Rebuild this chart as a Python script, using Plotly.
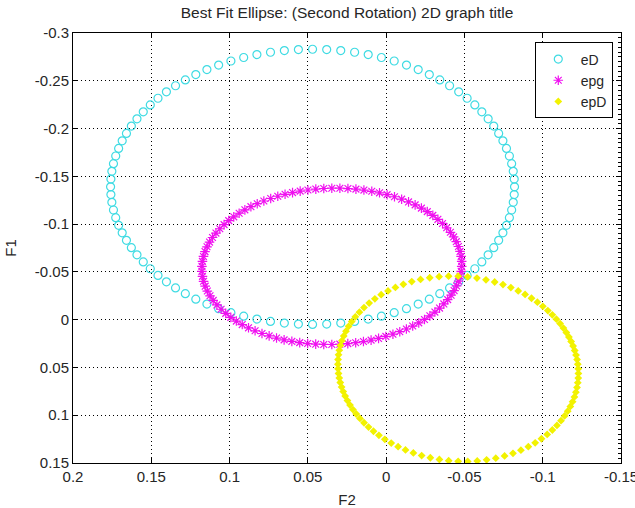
import numpy as np
import plotly.graph_objects as go

# ---- data (F2 on x, F1 on y) ----
series_names = ["eD", "epg", "epD"]
centre_f2 = [0.047, 0.0347, -0.046]       # ellipse centres, F2
centre_f1 = [-0.139, -0.0558, 0.0514]     # ellipse centres, F1
half_width_f2 = [0.129, 0.083, 0.0768]    # half extent along F2
half_height_f1 = [0.144, 0.0818, 0.097]   # half extent along F1
skew = [0.0, 0.03, -0.05]                 # small tilt of each fitted ellipse
n_points = [100, 100, 100]                # markers per ellipse

x_ticks = [0.2, 0.15, 0.1, 0.05, 0, -0.05, -0.1, -0.15]
x_tick_labels = ["0.2", "0.15", "0.1", "0.05", "0", "-0.05", "-0.1", "-0.15"]
y_ticks = [-0.3, -0.25, -0.2, -0.15, -0.1, -0.05, 0, 0.05, 0.1, 0.15]
y_tick_labels = ["-0.3", "-0.25", "-0.2", "-0.15", "-0.1", "-0.05", "0", "0.05", "0.1", "0.15"]

title_text = "Best Fit Ellipse: (Second Rotation) 2D graph title"

# ---- styles ----
colors = ["#3fdbe3", "#f010f0", "#f2f200"]
symbols = ["circle-open", "asterisk-open", "diamond"]
sizes = [8, 8, 6]
FONT = "Liberation Sans, Arial, sans-serif"
TXT = "#262626"


def ellipse_points(cx, cy, p, q, s, n):
    th = 2 * np.pi * np.arange(n) / n
    c, sn = np.cos(th), np.sin(th)
    denom = c ** 2 / p ** 2 + sn ** 2 / q ** 2 - 2 * s * c * sn / (p * q)
    r = np.sqrt(1 - s ** 2) / np.sqrt(denom)
    return cx + r * c, cy + r * sn


fig = go.Figure()
for i, name in enumerate(series_names):
    xs, ys = ellipse_points(centre_f2[i], centre_f1[i], half_width_f2[i],
                            half_height_f1[i], skew[i], n_points[i])
    fig.add_trace(go.Scatter(
        x=xs, y=ys, mode="markers", name=name,
        marker=dict(symbol=symbols[i], size=sizes[i], color=colors[i],
                    line=dict(width=1.2 if i < 2 else 0, color=colors[i])),
    ))

# invisible trace to carry the right-hand axis with minor ticks
fig.add_trace(go.Scatter(x=[x_ticks[0]], y=[y_ticks[0]], yaxis="y2", mode="markers",
                         marker=dict(opacity=0), showlegend=False, hoverinfo="skip"))

axis_common = dict(
    showline=True, linecolor="black", linewidth=1,
    ticks="inside", ticklen=5, tickcolor="black", tickwidth=1,
    showgrid=True, gridcolor="black", gridwidth=1, griddash="1px,3px",
    zeroline=False, tickfont=dict(family=FONT, size=15, color=TXT),
    mirror="ticks", automargin=False, ticklabeloverflow="allow",
)

fig.update_layout(
    width=635, height=508,
    margin=dict(l=73, r=14, t=33, b=45),
    paper_bgcolor="white", plot_bgcolor="white",
    title=dict(text=title_text, x=0.5, xref="paper", y=1 - 13 / 508, yref="container",
               xanchor="center", yanchor="middle",
               font=dict(family=FONT, size=15.5, color=TXT)),
    xaxis=dict(range=[0.2, -0.15], tickmode="array", tickvals=x_ticks, ticktext=x_tick_labels,
               title=dict(text="F2", font=dict(family=FONT, size=15, color=TXT), standoff=14),
               **axis_common),
    yaxis=dict(range=[0.15, -0.3], tickmode="array", tickvals=y_ticks, ticktext=y_tick_labels,
               title=dict(text="F1", font=dict(family=FONT, size=15, color=TXT), standoff=14),
               **axis_common),
    yaxis2=dict(range=[0.15, -0.3], overlaying="y", side="right", anchor="x",
                showgrid=False, zeroline=False, showticklabels=False, automargin=False,
                tickmode="linear", tick0=0, dtick=0.05,
                ticks="inside", ticklen=5, tickcolor="black",
                minor=dict(ticks="inside", ticklen=3, tickcolor="black", dtick=0.005, tick0=0,
                           showgrid=False)),
    legend=dict(x=0.985, y=0.978, xanchor="right", yanchor="top",
                bgcolor="white", bordercolor="black", borderwidth=1,
                font=dict(family=FONT, size=14, color=TXT),
                tracegroupgap=0, itemsizing="trace", itemwidth=35),
    showlegend=True,
)

fig.write_html("out.html", config={"displayModeBar": False},
               post_script="document.body.style.margin='0';")
